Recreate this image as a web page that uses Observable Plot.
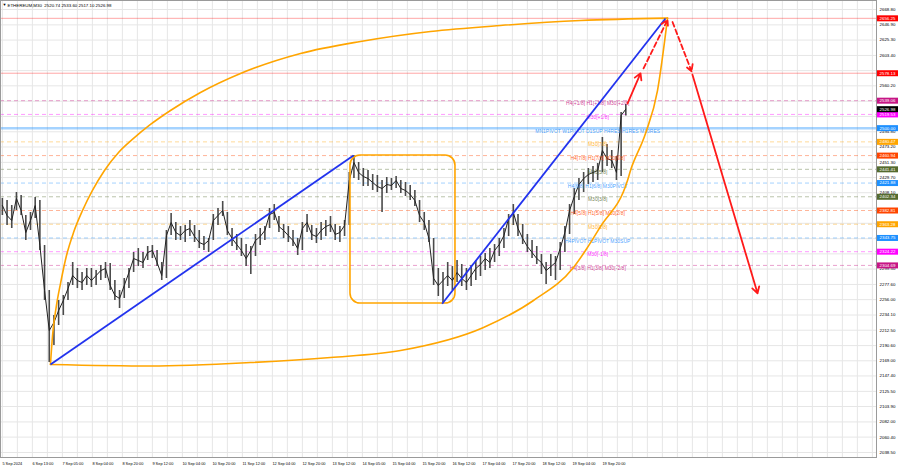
<!DOCTYPE html>
<html><head><meta charset="utf-8">
<script src="https://cdn.jsdelivr.net/npm/d3@7"></script>
<script src="https://cdn.jsdelivr.net/npm/@observablehq/plot@0.6"></script>
<style>html,body{margin:0;padding:0;background:#fff;}svg{display:block}</style>
</head><body><div id="chart"></div>
<script>
// ---- price data (30-min bars, sampled every 5 bars) ----
const highs = [2399.9,2397.0,2389.9,2408.4,2404.2,2375.7,2380.0,2401.3,2397.0,2333.0,2269.0,2233.4,2254.8,2261.9,2280.4,2308.8,2300.3,2294.6,2300.3,2300.3,2297.4,2304.6,2308.8,2307.4,2283.2,2269.0,2286.1,2300.3,2323.1,2328.7,2323.1,2331.6,2333.0,2325.9,2308.8,2354.4,2378.5,2365.7,2360.0,2361.5,2368.6,2361.5,2354.4,2345.8,2343.0,2377.1,2385.7,2395.6,2380.0,2357.2,2348.7,2343.0,2334.4,2331.6,2348.7,2357.2,2360.0,2385.7,2391.3,2374.3,2362.9,2360.0,2354.4,2343.0,2365.7,2377.1,2361.5,2357.2,2365.7,2368.6,2374.3,2362.9,2360.0,2368.6,2436.9,2461.1,2451.1,2442.6,2439.7,2434.0,2432.6,2425.5,2429.8,2428.3,2431.2,2425.5,2422.7,2418.4,2411.3,2397.0,2380.0,2368.6,2343.0,2300.3,2294.6,2308.8,2303.1,2311.7,2306.0,2300.3,2304.6,2311.7,2317.4,2321.6,2328.7,2334.4,2343.0,2357.2,2377.1,2391.3,2377.1,2362.9,2348.7,2340.1,2331.6,2320.2,2308.8,2320.2,2317.4,2337.3,2360.0,2391.3,2414.1,2428.3,2436.9,2442.6,2445.4,2449.7,2486.7,2476.7,2468.2,2459.6,2522.2,2533.6];
const lows = [2375.7,2361.5,2357.2,2382.8,2375.7,2340.1,2354.4,2371.4,2325.9,2254.8,2166.5,2190.7,2219.2,2233.4,2254.8,2276.1,2271.8,2269.0,2276.1,2273.3,2276.1,2283.2,2286.1,2269.0,2254.8,2243.4,2257.6,2271.8,2294.6,2303.1,2300.3,2311.7,2314.5,2303.1,2283.2,2286.1,2347.2,2340.1,2340.1,2337.3,2345.8,2337.3,2328.7,2325.9,2323.1,2340.1,2361.5,2374.3,2347.2,2331.6,2325.9,2317.4,2303.1,2291.8,2317.4,2333.0,2340.1,2357.2,2368.6,2351.5,2343.0,2337.3,2331.6,2318.8,2325.9,2351.5,2340.1,2335.9,2340.1,2345.8,2351.5,2340.1,2337.3,2345.8,2361.5,2428.3,2425.5,2417.0,2417.0,2411.3,2408.4,2380.0,2407.0,2411.3,2414.1,2407.0,2402.7,2397.0,2388.5,2365.7,2354.4,2337.3,2276.1,2260.5,2251.9,2274.7,2269.0,2280.4,2274.7,2269.0,2274.7,2283.2,2288.9,2297.4,2300.3,2308.8,2317.4,2328.7,2345.8,2361.5,2345.8,2334.4,2323.1,2314.5,2306.0,2291.8,2277.5,2288.9,2283.2,2297.4,2323.1,2348.7,2377.1,2397.0,2408.4,2419.8,2422.7,2425.5,2436.9,2445.4,2442.6,2425.5,2431.2,2517.1];
const closes = [2389.9,2375.7,2368.6,2399.9,2382.8,2351.5,2368.6,2389.9,2333.0,2269.0,2212.1,2223.5,2240.5,2254.8,2271.8,2290.3,2283.2,2280.4,2290.3,2283.2,2290.3,2297.4,2300.3,2276.1,2261.9,2257.6,2276.1,2294.6,2314.5,2311.7,2308.8,2323.1,2325.9,2308.8,2290.3,2347.2,2365.7,2351.5,2347.2,2354.4,2357.2,2345.8,2337.3,2334.4,2340.1,2368.6,2375.7,2382.8,2354.4,2343.0,2334.4,2325.9,2314.5,2325.9,2340.1,2345.8,2354.4,2377.1,2380.0,2360.0,2354.4,2347.2,2340.1,2328.7,2357.2,2365.7,2348.7,2345.8,2354.4,2360.0,2362.9,2348.7,2351.5,2361.5,2425.5,2451.1,2436.9,2431.2,2428.3,2422.7,2417.0,2414.1,2419.8,2418.4,2425.5,2414.1,2411.3,2405.6,2397.0,2375.7,2365.7,2343.0,2286.1,2276.1,2283.2,2290.3,2283.2,2294.6,2286.1,2280.4,2290.3,2300.3,2306.0,2314.5,2308.8,2325.9,2334.4,2347.2,2371.4,2380.0,2357.2,2343.0,2331.6,2323.1,2314.5,2308.8,2297.4,2303.1,2308.8,2328.7,2351.5,2382.8,2402.7,2419.8,2428.3,2434.0,2436.9,2439.7,2468.2,2456.8,2454.0,2436.9,2518.0,2526.98];
const barsPerSample = 5;

// ---- Murrey / pivot levels ----
const levels = [2656.25,2578.13,2539.06,2519.53,2500.00,2480.47,2460.94,2441.41,2421.88,2402.34,2382.81,2363.28,2343.75,2324.22,2304.69];
const levelColors = ["#ff0000","#ff0000","#c71585","#ff00ff","#1e90ff","#ffa500","#ff4500","#556b2f","#1e90ff","#556b2f","#ff4500","#ffa500","#1e90ff","#ff00ff","#c71585"];
const levelNames = ["","","H4[+1/8] H1[+1/8] M30[+2/8]","M30[+1/8]","MN1PIVOT W1PIVOT D1SUP H4RES H1RES M30RES","M30[7/8]","H4[7/8] H1[7/8] M30[6/8]","M30[5/8]","H4[6/8] H1[6/8] M30PIVOT","M30[3/8]","H4[5/8] H1[5/8] M30[2/8]","M30[1/8]","H4PIVOT H1PIVOT M30SUP","M30[-1/8]","H4[3/8] H1[3/8] M30[-2/8]"];
const levelDashed = [false,false,true,true,false,true,true,true,true,true,true,true,true,true,true];
const lastPrice = 2526.98;

// ---- axes ----
const yTicks = [2668.80,2646.90,2625.30,2603.40,2581.80,2560.20,2538.30,2516.70,2494.80,2473.20,2451.30,2429.70,2408.10,2386.20,2364.60,2342.70,2321.10,2299.50,2277.60,2256.00,2234.10,2212.50,2190.60,2169.00,2147.40,2125.50,2103.90,2082.00,2060.40,2038.50];
const xLabels = ["5 Sep 2024","6 Sep 13:00","7 Sep 05:00","8 Sep 04:00","8 Sep 20:00","9 Sep 12:00","10 Sep 04:00","10 Sep 20:00","11 Sep 12:00","12 Sep 04:00","12 Sep 20:00","13 Sep 12:00","14 Sep 05:00","15 Sep 04:00","15 Sep 20:00","16 Sep 12:00","17 Sep 04:00","17 Sep 20:00","18 Sep 12:00","19 Sep 04:00","19 Sep 20:00"];
const xLabelBars = [0,32,64,96,128,160,192,224,256,288,320,352,384,416,448,480,512,544,576,608,640];

// ---- drawn objects (bar index, price) ----
const trend1 = {b1: 51.3, p1: 2163.7, b2: 374.5, p2: 2461.1};
const trend2 = {b1: 469.1, p1: 2250.1, b2: 707.3, p2: 2656.0};
const boxRange = {b1: 371.3, b2: 483.3, p1: 2250.5, p2: 2461.1};
const upperArcBars = [51.3,53.5,57.7,62,68.4,75.9,85.5,96.1,108.9,123.9,139.9,158,179.3,211.3,254,318,382,456.7,531.3,616.7,709.5];
const upperArcPrices = [2163.7,2205.0,2247.7,2278.9,2318.8,2351.5,2382.8,2411.3,2439.7,2465.3,2485.3,2505.2,2525.1,2550.7,2577.7,2606.2,2623.3,2637.5,2646.0,2653.1,2656.5];
const lowerArcBars = [51.3,158,264.7,350,424.7,513.2,566.5,609.2,622,638,666.8,670,686,698.8,709.5];
const lowerArcPrices = [2163.7,2161.6,2166.5,2173.7,2183.6,2216.4,2254.8,2301.7,2325.9,2360.0,2425.5,2439.7,2492.4,2553.5,2656.5];
const projBars1 = [666.8,683.9,714.8,736.1];
const projPrices1 = [2535.0,2585.0,2651.0,2576.0];
const projBars2 = [680.7,709.5,735.1,805.5];
const projPrices2 = [2578.0,2654.0,2581.0,2265.0];
const projDashed = [false,true,true,false];

// ---- build ----
const X0 = -2, X1 = 932.4, Y0 = 2031.4, Y1 = 2681.6;
const candles = closes.map((c, i) => ({t: i * barsPerSample, high: highs[i], low: lows[i], close: c}));
const lv = levels.map((v, i) => ({v, c: levelColors[i], name: levelNames[i], dashed: levelDashed[i]}));
const boxes = lv.map(d => ({v: d.v, c: d.c})).concat([{v: lastPrice, c: "#000000"}]);
// tick labels fully hidden behind a coloured price box are not drawn
const visibleTicks = yTicks.filter(t => !boxes.some(b => Math.abs(b.v - t) < 4));
const upperArc = upperArcBars.map((b, i) => ({b, p: upperArcPrices[i]}));
const lowerArc = lowerArcBars.map((b, i) => ({b, p: lowerArcPrices[i]}));
const proj = projBars1.map((b, i) => ({b1: b, p1: projPrices1[i], b2: projBars2[i], p2: projPrices2[i], dashed: projDashed[i]}));
const xt = xLabels.map((label, i) => ({b: xLabelBars[i], label}));
const vGrid = d3.range(0, X1, 16);
const FONT = 5, AXFONT = 4.4, XFONT = 3.9;

const chart = Plot.plot({
  width: 900, height: 468,
  marginLeft: 0, marginRight: 24, marginTop: 0, marginBottom: 11,
  x: {domain: [X0, X1], axis: null},
  y: {domain: [Y0, Y1], axis: null},
  style: {fontFamily: "'Liberation Sans', Arial, sans-serif", fontSize: "5px", background: "#ffffff", overflow: "visible"},
  marks: [
    Plot.ruleY(yTicks, {stroke: "#e6e6e6", strokeWidth: 1}),
    Plot.ruleX(vGrid, {stroke: "#e6e6e6", strokeWidth: 1}),
    // levels
    Plot.ruleY(lv.filter(d => !d.dashed && d.v !== 2500), {y: "v", stroke: d => d.c, strokeOpacity: 0.35, strokeWidth: 1}),
    Plot.ruleY(lv.filter(d => d.v === 2500), {y: "v", stroke: d => d.c, strokeOpacity: 0.4, strokeWidth: 2.5}),
    Plot.ruleY(lv.filter(d => d.dashed), {y: "v", stroke: d => d.c, strokeOpacity: 0.4, strokeWidth: 1, strokeDasharray: "4,3"}),
    // price
    Plot.ruleX(candles, {x: "t", y1: "low", y2: "high", stroke: "#4a4a4a", strokeWidth: 1.6}),
    Plot.line(candles, {x: "t", y: "close", stroke: "#222", strokeWidth: 1}),
    // level labels on chart
    Plot.text(lv.filter(d => d.name), {x: 635, y: "v", text: "name", fill: d => d.c, textAnchor: "middle", lineAnchor: "top", dy: 1, fontSize: FONT, fillOpacity: 0.85}),
    // drawn objects
    Plot.rect([boxRange], {x1: "b1", x2: "b2", y1: "p1", y2: "p2", fill: "none", stroke: "#ffa500", strokeWidth: 1.6, rx: 10}),
    Plot.line(upperArc, {x: "b", y: "p", curve: "monotone-x", stroke: "#ffa500", strokeWidth: 1.6}),
    Plot.line(lowerArc, {x: "b", y: "p", curve: "monotone-x", stroke: "#ffa500", strokeWidth: 1.6}),
    Plot.link([trend1, trend2], {x1: "b1", y1: "p1", x2: "b2", y2: "p2", stroke: "#2233ee", strokeWidth: 1.8}),
    Plot.arrow(proj.filter(d => !d.dashed), {x1: "b1", y1: "p1", x2: "b2", y2: "p2", stroke: "#ff1a1a", strokeWidth: 1.8, headLength: 6}),
    Plot.arrow(proj.filter(d => d.dashed), {x1: "b1", y1: "p1", x2: "b2", y2: "p2", stroke: "#ff1a1a", strokeWidth: 1.8, headLength: 6, strokeDasharray: "5,3"}),
    Plot.frame({stroke: "#9a9a9a"}),
    // right price axis
    Plot.text(visibleTicks, {x: X1, y: d => d, text: d => d.toFixed(2), textAnchor: "start", dx: 3, fontSize: AXFONT, fill: "#000"}),
    Plot.ruleY(boxes, {y: "v", x1: X1 + 1, x2: X1 + 23.5, stroke: d => d.c, strokeWidth: 6}),
    Plot.text(boxes, {x: X1, y: "v", text: d => d.v.toFixed(2), textAnchor: "start", dx: 3, fontSize: AXFONT, fill: "#ffffff"}),
    // bottom time axis
    Plot.text(xt, {x: "b", y: Y0, text: "label", textAnchor: "start", lineAnchor: "top", dy: 5, fontSize: XFONT, fill: "#000"}),
    // title
    Plot.text(["\u25BC"], {frameAnchor: "top-left", text: d => d, dx: 2, dy: 3, textAnchor: "start", lineAnchor: "top", fontSize: 4, fill: "#000"}),
    Plot.text(["ETHEREUM,M30  2520.74 2533.60 2517.10 2526.98"], {frameAnchor: "top-left", text: d => d, dx: 7, dy: 3, textAnchor: "start", lineAnchor: "top", fontSize: AXFONT, fill: "#000"})
  ]
});
document.getElementById("chart").appendChild(chart);
</script>
</body></html>
